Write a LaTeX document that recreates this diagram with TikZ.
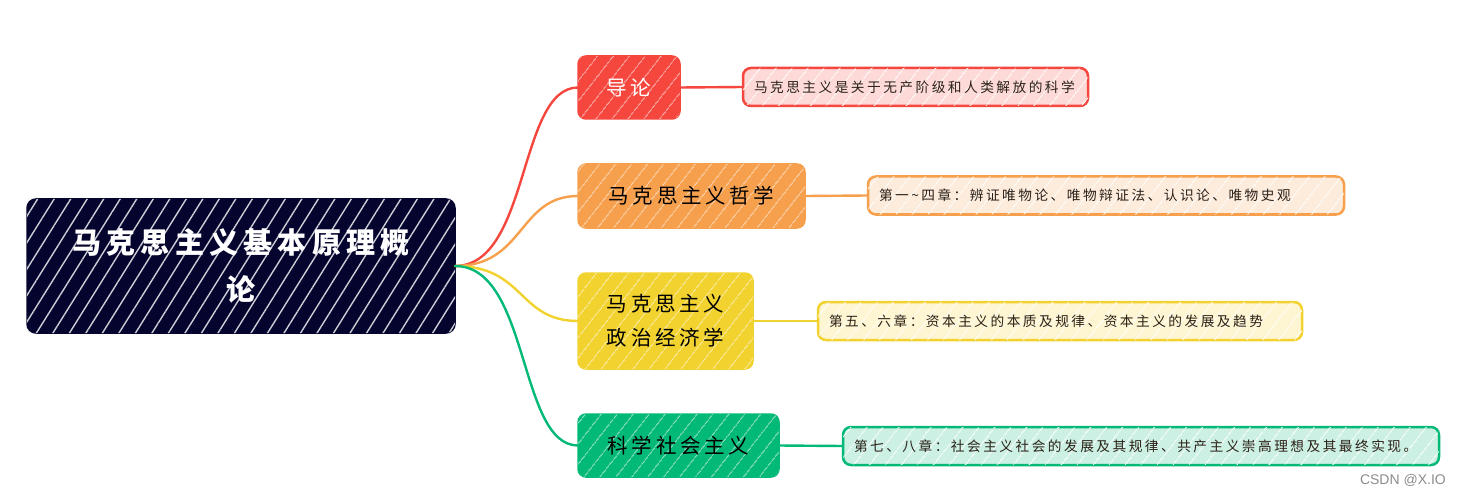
\documentclass[tikz,border=0pt]{standalone}
\usepackage{fontspec}
\newfontfamily\cjk[LetterSpace=18]{Noto Sans CJK SC}
\newfontfamily\wmfont{Liberation Sans}
\usetikzlibrary{patterns.meta}
\definecolor{rootc}{HTML}{04042E}
\definecolor{redc}{HTML}{F5473E}
\definecolor{redl}{HTML}{FDD9D8}
\definecolor{orac}{HTML}{F6A04D}
\definecolor{oral}{HTML}{FDEBDB}
\definecolor{yelc}{HTML}{F2D22E}
\definecolor{yell}{HTML}{FEF6D3}
\definecolor{grec}{HTML}{03B977}
\definecolor{grel}{HTML}{CCF0E3}
\definecolor{txtd}{HTML}{2B2118}
\tikzset{
  roothatch/.style={postaction={pattern={Lines[angle=58,distance=14pt,line width=1.4pt]},pattern color=white!80!rootc}},
  lighthatch/.style={postaction={pattern={Lines[angle=52,distance=13pt,line width=0.9pt]},pattern color=#1}},
  rootbox/.style={draw=rootc,fill=rootc,line width=1.5pt,rounded corners=9pt,inner sep=0pt,outer sep=0pt,
     text=white,align=center,font=\cjk\bfseries\fontsize{29}{47}\selectfont,roothatch},
  mainbox/.style={draw=#1,fill=#1,line width=1.5pt,rounded corners=8pt,inner sep=0pt,outer sep=0pt,
     align=center,font=\cjk\fontsize{20.5}{34}\selectfont,lighthatch=#1!45!white},
  detbox/.style={line width=2.5pt,rounded corners=8pt,inner xsep=11pt,inner ysep=0pt,outer sep=0pt,
     text=txtd,align=left,font=\cjk\fontsize{13.7}{16}\selectfont,lighthatch=white,minimum height=38pt},
  conn/.style={line width=2.4pt,line cap=round}
}
\begin{document}
\begin{tikzpicture}[x=1pt,y=-1pt]
\useasboundingbox (0,0) rectangle (1461,497);
% root
\node[rootbox,minimum width=428pt,minimum height=134pt] (root) at (241,266)
  {马克思主义基本原理概\\论};
% main topics
\node[mainbox=redc,text=white,minimum width=102pt,minimum height=63pt] (intro) at (629,87.5) {导论};
\node[mainbox=orac,text=black,minimum width=227pt,minimum height=64pt] (phil) at (691.5,196) {马克思主义哲学};
\node[mainbox=yelc,text=black,minimum width=175pt,minimum height=96pt] (econ) at (665.5,321) {马克思主义\\政治经济学};
\node[mainbox=grec,text=black,minimum width=201pt,minimum height=63pt] (soc) at (678.5,445.5) {科学社会主义};
% details
\node[detbox,draw=redc,fill=redl,text width=323pt,minimum width=345pt] (d1) at (915.5,87) {马克思主义是关于无产阶级和人类解放的科学};
\node[detbox,draw=orac,fill=oral,text width=454pt,minimum width=476pt] (d2) at (1106,195.5) {第一\textasciitilde 四章：辨证唯物论、唯物辩证法、认识论、唯物史观};
\node[detbox,draw=yelc,fill=yell,text width=462pt,minimum width=484pt] (d3) at (1060,321) {第五、六章：资本主义的本质及规律、资本主义的发展及趋势};
\node[detbox,draw=grec,fill=grel,text width=574pt,minimum width=596pt] (d4) at (1141,446) {第七、八章：社会主义社会的发展及其规律、共产主义崇高理想及其最终实现。};
% connectors from root
\draw[conn,redc] (root.east) .. controls +(75,0) and +(-60,0) .. (intro.west);
\draw[conn,orac] (root.east) .. controls +(70,0) and +(-60,0) .. (phil.west);
\draw[conn,yelc] (root.east) .. controls +(70,0) and +(-60,0) .. (econ.west);
\draw[conn,grec] (root.east) .. controls +(75,0) and +(-60,0) .. (soc.west);
% connectors to details
\draw[conn,redc] (intro.east) -- (d1.west);
\draw[conn,orac] (phil.east) -- (d2.west);
\draw[conn,yelc] (econ.east) -- (d3.west);
\draw[conn,grec] (soc.east) -- (d4.west);
% watermark
\node[anchor=east,inner sep=0pt,text=black!45,font=\wmfont\fontsize{14}{14}\selectfont] (wm) at (1446,480) {CSDN @X.IO};
\end{tikzpicture}
\end{document}
